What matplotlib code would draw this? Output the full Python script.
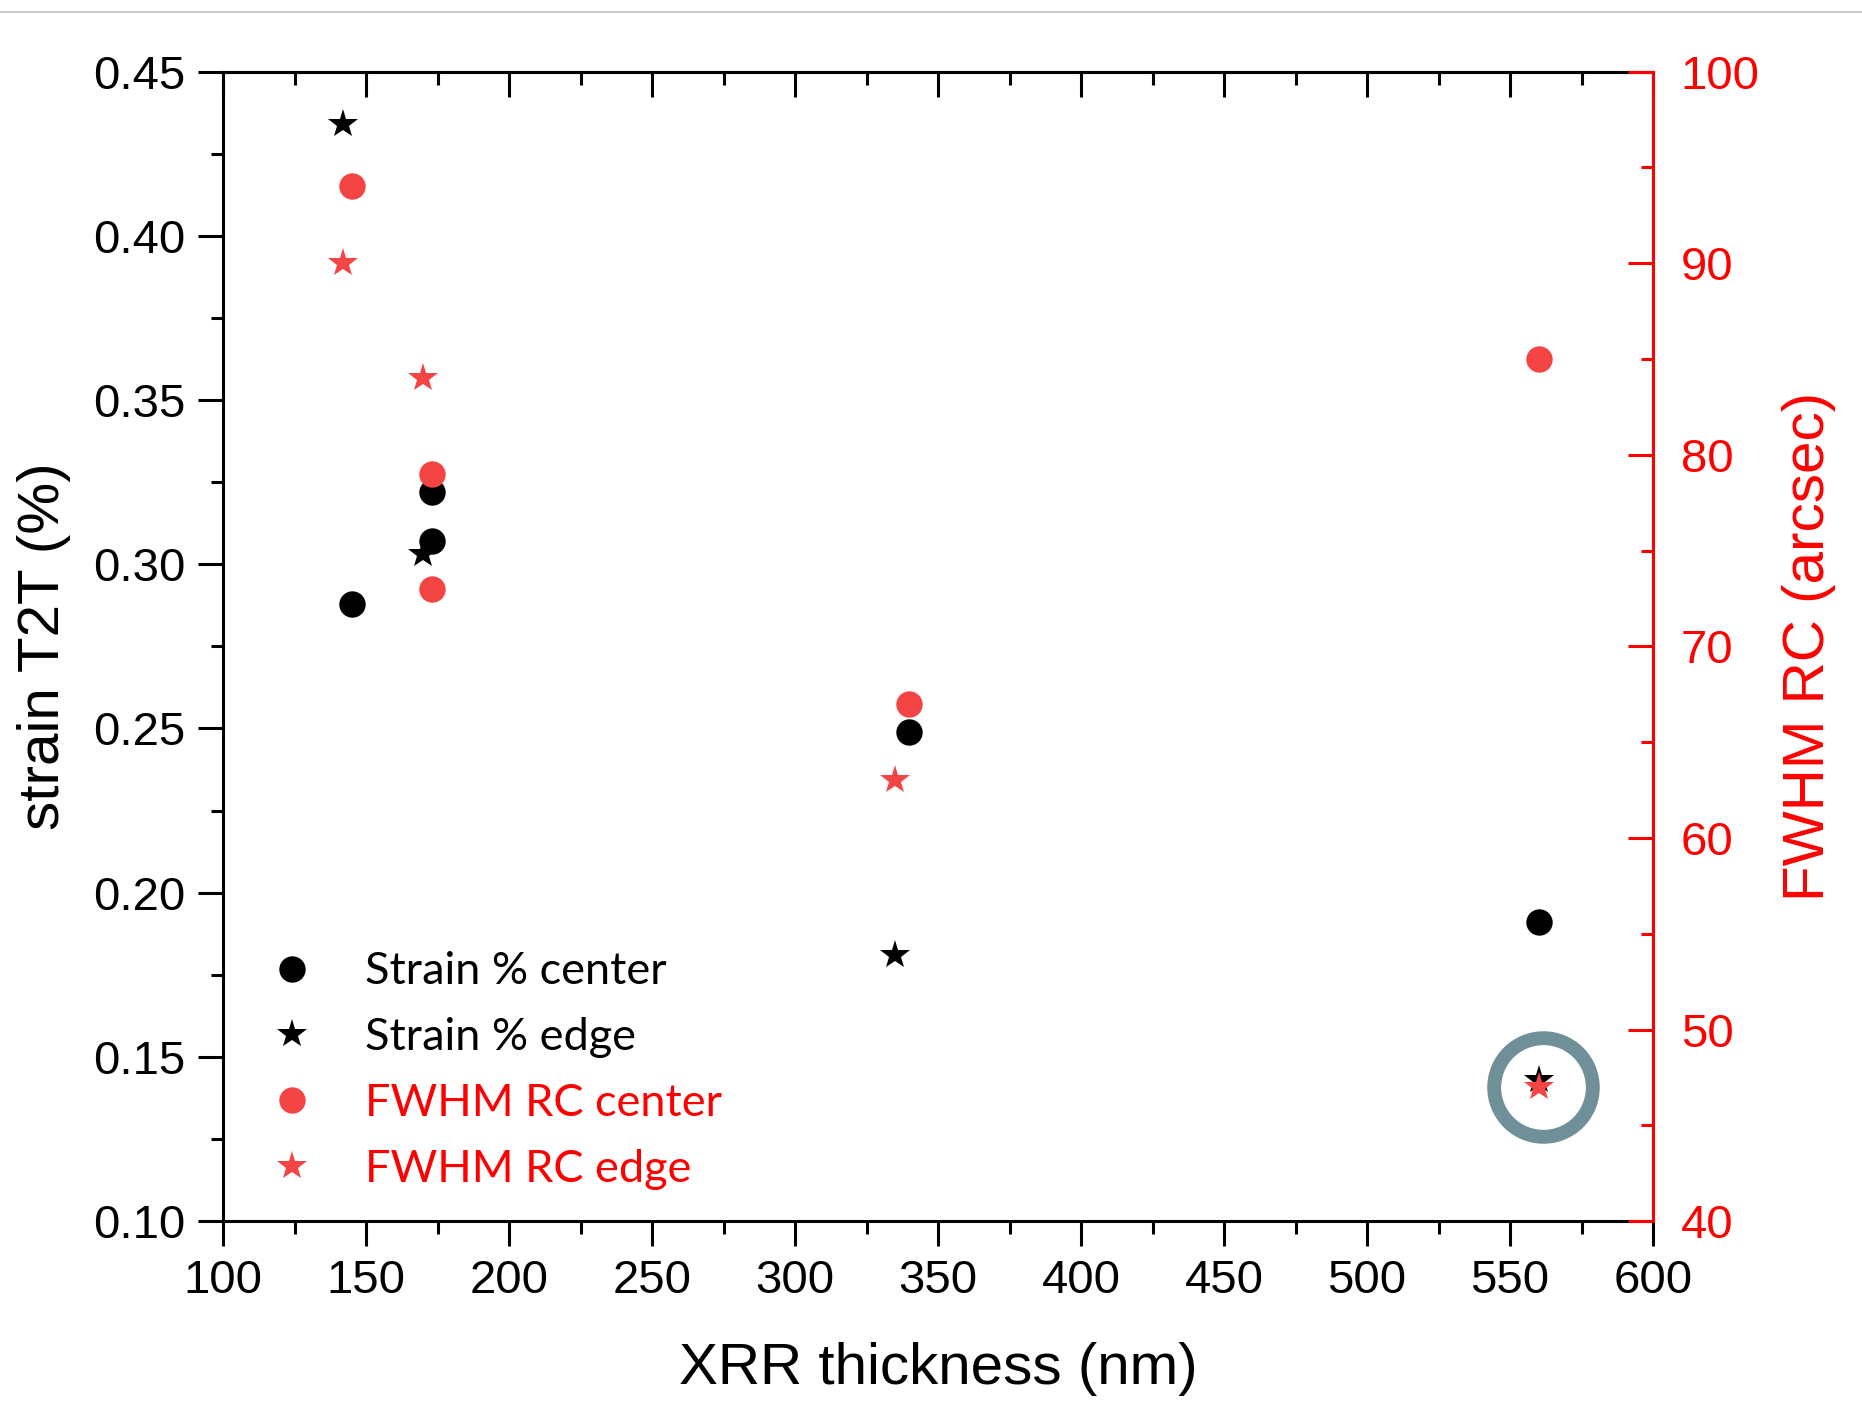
import matplotlib
matplotlib.use('Agg')
import matplotlib.pyplot as plt
import matplotlib.transforms as mtransforms
from matplotlib.lines import Line2D
from matplotlib.ticker import MultipleLocator

# XRR thickness (nm) for the center / edge measurements
thickness_center = [145, 173, 173, 340, 560]
thickness_edge = [142, 170, 335, 560]

# strain T2T (%) on the left axis
strain_center = [0.288, 0.322, 0.307, 0.249, 0.191]
strain_edge = [0.434, 0.303, 0.181, 0.143]

# FWHM of the rocking curve (arcsec) on the right axis
fwhm_center = [94, 79, 73, 67, 85]
fwhm_edge = [90, 84, 63, 47]

legend_labels = ['Strain % center', 'Strain % edge', 'FWHM RC center', 'FWHM RC edge']

RED = '#ff0000'
RED_MARK = '#f44444'
RING = '#6f8f99'

plt.rcParams['font.family'] = ['Liberation Sans', 'DejaVu Sans']

fig = plt.figure(figsize=(18.62, 14.02), dpi=100)
ax = fig.add_axes([0.1198, 0.129, 0.7680, 0.820])
ax2 = ax.twinx()

# Left axis: strain
ax.plot(thickness_center, strain_center, 'o', color='black', ms=19, mew=0)
ax.plot(thickness_edge, strain_edge, '*', color='black', ms=22, mew=0)

# Right axis: FWHM RC
ax2.plot(thickness_center, fwhm_center, 'o', color=RED_MARK, ms=19, mew=0)
ax2.plot(thickness_edge, fwhm_edge, '*', color=RED_MARK, ms=22, mew=0)

# highlight ring round the last edge sample (drawn slightly right of it)
ring_tr = mtransforms.offset_copy(ax2.transData, fig=fig, x=4, y=0, units='dots')
ax2.plot(thickness_edge[-1], fwhm_edge[-1], 'o', ms=71, mfc='none',
         mec=RING, mew=10, clip_on=False, transform=ring_tr)

ax.set_xlim(100, 600)
ax.set_ylim(0.10, 0.45)
ax2.set_ylim(40, 100)

ax.xaxis.set_major_locator(MultipleLocator(50))
ax.xaxis.set_minor_locator(MultipleLocator(25))
ax.yaxis.set_major_locator(MultipleLocator(0.05))
ax.yaxis.set_minor_locator(MultipleLocator(0.025))
ax.yaxis.set_major_formatter(lambda v, p: f'{v:.2f}')
ax2.yaxis.set_major_locator(MultipleLocator(10))
ax2.yaxis.set_minor_locator(MultipleLocator(5))

lw = 2.2
for sp in ax.spines.values():
    sp.set_linewidth(lw)
ax.spines['right'].set_visible(False)
for name in ['left', 'top', 'bottom']:
    ax2.spines[name].set_visible(False)
ax2.spines['right'].set_color(RED)
ax2.spines['right'].set_linewidth(lw)

ax.tick_params(axis='both', which='major', length=18, width=lw, labelsize=34, pad=9)
ax.tick_params(axis='both', which='minor', length=9, width=lw)
ax.tick_params(axis='y', which='both', right=False)
ax2.tick_params(axis='y', which='major', direction='in', length=18, width=lw,
                colors=RED, labelsize=34, pad=20)
ax2.tick_params(axis='y', which='minor', direction='in', length=9, width=lw, colors=RED)

# top axis: inward ticks, no labels
top = ax.secondary_xaxis('top')
top.xaxis.set_major_locator(MultipleLocator(50))
top.xaxis.set_minor_locator(MultipleLocator(25))
top.tick_params(which='major', direction='in', length=18, width=lw, labeltop=False)
top.tick_params(which='minor', direction='in', length=9, width=lw)
top.spines['top'].set_linewidth(lw)

ax.set_xlabel('XRR thickness (nm)', fontsize=42)
ax.set_ylabel('strain T2T (%)', fontsize=42)
ax2.set_ylabel('FWHM RC (arcsec)', fontsize=42, color=RED)
ax.xaxis.set_label_coords(0.5, -0.105)
ax.yaxis.set_label_coords(-0.106, 0.5)
ax2.yaxis.set_label_coords(1.09, 0.5)

handles = [
    Line2D([], [], ls='none', marker='o', color='black', ms=19, mew=0),
    Line2D([], [], ls='none', marker='*', color='black', ms=22, mew=0),
    Line2D([], [], ls='none', marker='o', color=RED_MARK, ms=19, mew=0),
    Line2D([], [], ls='none', marker='*', color=RED_MARK, ms=22, mew=0),
]
leg = ax2.legend(handles, legend_labels, loc='center left', bbox_to_anchor=(0.0325, 0.131),
                 frameon=False, borderpad=0, borderaxespad=0, handlelength=1.0,
                 handletextpad=1.12, labelspacing=0.55,
                 prop={'family': 'Lato', 'size': 32.5},
                 labelcolor=['black', 'black', RED, RED])

# thin grey rule along the top of the picture
fig.add_artist(Line2D([0, 1], [0.9914, 0.9914], transform=fig.transFigure,
                      color='#cccccc', lw=1.5))

fig.savefig('out.png', dpi=100, facecolor='white')
